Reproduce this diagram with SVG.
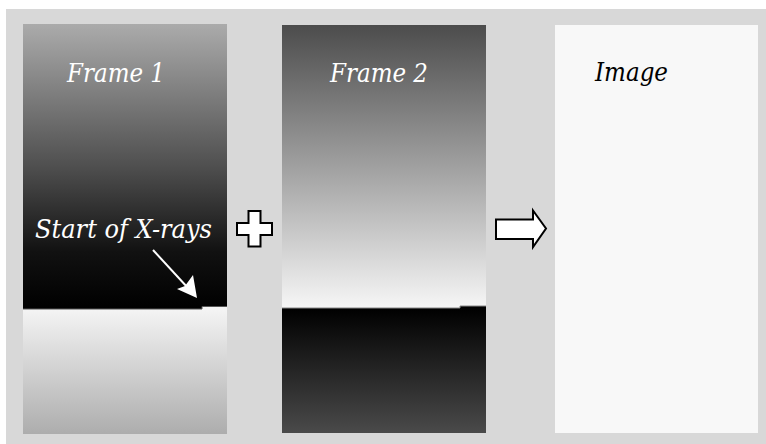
<svg xmlns="http://www.w3.org/2000/svg" width="766" height="444" viewBox="0 0 766 444">
  <defs>
    <linearGradient id="f1top" x1="0" y1="0" x2="0" y2="1">
      <stop offset="0" stop-color="#ababab"/>
      <stop offset="0.5" stop-color="#4f4f4f"/>
      <stop offset="0.8" stop-color="#111111"/>
      <stop offset="1" stop-color="#000000"/>
    </linearGradient>
    <linearGradient id="f1bot" x1="0" y1="0" x2="0" y2="1">
      <stop offset="0" stop-color="#f4f4f4"/>
      <stop offset="1" stop-color="#adadad"/>
    </linearGradient>
    <linearGradient id="f2top" x1="0" y1="0" x2="0" y2="1">
      <stop offset="0" stop-color="#4c4c4c"/>
      <stop offset="0.5" stop-color="#a0a0a0"/>
      <stop offset="1" stop-color="#f6f6f6"/>
    </linearGradient>
    <linearGradient id="f2bot" x1="0" y1="0" x2="0" y2="1">
      <stop offset="0" stop-color="#000000"/>
      <stop offset="1" stop-color="#4a4a4a"/>
    </linearGradient>
  </defs>
  <style>
    text { font-family: "DejaVu Serif", serif; font-style: italic; font-size: 26px; }
    .w { fill: #ffffff; }
    .k { fill: #000000; }
    .op { fill: #ffffff; stroke: #000000; stroke-width: 2; stroke-linejoin: miter; }
  </style>
  <rect x="6" y="9" width="760" height="435" fill="#d8d8d8"/>

  <g id="frame1">
    <rect x="23" y="24" width="204" height="285" fill="url(#f1top)"/>
    <rect x="23" y="309" width="204" height="125" fill="url(#f1bot)"/>
    <rect x="202" y="306" width="25" height="3" fill="#f4f4f4"/>
    <path d="M23,309 H202 V306.5 H227" fill="none" stroke="#555555" stroke-width="1"/>
    <text class="w" x="67" y="82" textLength="98" lengthAdjust="spacingAndGlyphs">Frame 1</text>
  </g>

  <g id="frame2">
    <rect x="282" y="25" width="204" height="283" fill="url(#f2top)"/>
    <rect x="282" y="308" width="204" height="125" fill="url(#f2bot)"/>
    <rect x="460" y="306" width="26" height="2" fill="#000000"/>
    <path d="M282,308 H460 V306 H486" fill="none" stroke="#888888" stroke-width="1"/>
    <text class="w" x="330" y="82" textLength="98" lengthAdjust="spacingAndGlyphs">Frame 2</text>
  </g>

  <g id="image">
    <rect x="555" y="25" width="203" height="408" fill="#f8f8f8"/>
    <text class="k" x="595" y="81" textLength="73" lengthAdjust="spacingAndGlyphs">Image</text>
  </g>

  <g id="annotation">
    <text class="w" x="35" y="238" textLength="177" lengthAdjust="spacingAndGlyphs">Start of X-rays</text>
  </g>

  <g id="connectors">
    <line x1="153" y1="250" x2="188" y2="288" stroke="#ffffff" stroke-width="2"/>
    <path d="M197,298 L177,289 L185,286 L193,275 Z" fill="#ffffff"/>
    <path class="op" d="M248.5,211 H260.5 V223 H272 V235 H260.5 V246.5 H248.5 V235 H237 V223 H248.5 Z"/>
    <path class="op" d="M496,219.5 H533 V210.5 L546,228.5 L533,247 V239 H496 Z"/>
  </g>
</svg>
